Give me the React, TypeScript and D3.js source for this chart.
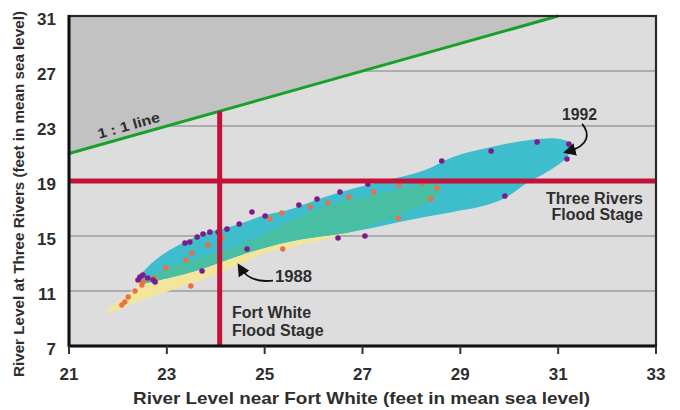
import React from "react";
import * as d3 from "d3";

// ---- Data ----
const xTicks = [21, 23, 25, 27, 29, 31, 33];
const yTicks = [7, 11, 15, 19, 23, 27, 31];
const gridValues = [11, 15, 23, 27];
const floodThreeRivers = 19;
const floodFortWhite = 24.08;

// 1992 envelope (x, y)
const env1992X = [22.41, 22.61, 22.96, 23.37, 23.78, 24.13, 24.6, 25.01, 25.48, 26.17, 26.85, 27.52, 28.28, 28.85, 29.54, 30.42, 31.04, 31.28, 31.18, 30.77, 30.36, 29.95, 29.54, 28.85, 28.17, 27.66, 27.19, 26.54, 25.72, 24.95, 24.25, 23.58, 22.86, 22.51];
const env1992Y = [11.8, 12.75, 13.76, 14.56, 15.22, 15.51, 16.02, 16.53, 16.89, 17.76, 18.49, 19.07, 19.8, 20.75, 21.4, 21.98, 22.05, 21.62, 20.75, 19.65, 18.85, 17.84, 17.25, 16.75, 16.31, 15.95, 15.58, 15.15, 14.75, 14.1, 13.3, 12.45, 11.8, 11.58];

// 1988 envelope (x, y)
const env1988X = [21.74, 22.0, 22.35, 22.7, 23.23, 23.92, 24.45, 25.01, 25.48, 26.17, 26.85, 27.52, 28.07, 28.52, 28.6, 28.38, 27.97, 27.66, 27.19, 26.5, 25.72, 25.01, 24.6, 23.92, 23.23, 22.55, 21.94];
const env1988Y = [9.4, 10.2, 11.22, 12.16, 12.96, 13.69, 14.35, 15.15, 16.02, 17.04, 17.69, 18.2, 18.64, 18.78, 18.27, 17.55, 16.89, 16.38, 15.8, 15.0, 14.35, 13.76, 13.11, 12.09, 11.22, 10.42, 9.55];

// 1992 observations
const obs1992X = [24.74, 23.37, 23.47, 23.62, 23.74, 23.88, 24.05, 24.23, 24.48, 24.64, 23.72, 22.45, 22.51, 22.41, 22.61, 22.72, 22.76, 25.01, 25.7, 26.07, 26.54, 27.11, 26.5, 27.05, 28.62, 29.63, 30.57, 31.22, 31.18, 29.91];
const obs1992Y = [16.75, 14.49, 14.56, 14.93, 15.15, 15.29, 15.29, 15.51, 15.87, 14.05, 12.45, 12.02, 12.16, 11.8, 11.95, 11.8, 11.65, 16.45, 17.25, 17.69, 18.2, 18.78, 14.85, 15.0, 20.45, 21.18, 21.84, 21.69, 20.6, 17.91];

// 1988 observations
const obs1988X = [24.13, 23.84, 23.51, 23.39, 22.98, 22.74, 22.51, 22.49, 22.35, 22.21, 22.14, 22.08, 23.49, 25.11, 25.35, 25.93, 26.29, 26.72, 27.23, 27.75, 28.22, 27.73, 25.37, 28.52, 28.4];
const obs1988Y = [14.85, 14.35, 13.76, 13.25, 12.67, 11.95, 11.65, 11.44, 11.0, 10.56, 10.2, 9.98, 11.36, 16.24, 16.67, 17.11, 17.4, 17.84, 18.2, 18.71, 18.85, 16.31, 14.05, 18.49, 17.69];

const W = 680;
const H = 410;
const FONT = "'Liberation Sans', Arial, Helvetica, sans-serif";
const TXT = "#2e2e2e";

export default function App() {
  const x = d3.scaleLinear().domain([21, 33]).range([69, 656]);
  const y = d3.scaleLinear().domain([7, 31]).range([346, 16]);

  const poly = (xs: number[], ys: number[]) =>
    d3.line<number>().x((_, i) => x(xs[i])).y((_, i) => y(ys[i])).curve(d3.curveCatmullRomClosed.alpha(0.5))(xs);

  const p1992 = poly(env1992X, env1992Y) || "";
  const p1988 = poly(env1988X, env1988Y) || "";

  const grayTri = `M${x(21)},${y(21)} L${x(31)},${y(31)} L${x(21)},${y(31)} Z`;

  const arrow1992 = d3.path();
  arrow1992.moveTo(x(31.49), y(23.15));
  arrow1992.bezierCurveTo(x(31.64), y(22.5), x(31.66), y(21.6), x(31.2), y(21.15));

  const arrow1988 = d3.path();
  arrow1988.moveTo(x(25.17), y(11.76));
  arrow1988.bezierCurveTo(x(24.85), y(11.62), x(24.62), y(12.0), x(24.5), y(12.7));

  const slopeAngle = (Math.atan2(y(31) - y(21), x(31) - x(21)) * 180) / Math.PI;

  return (
    <svg width={W} height={H} style={{ position: "absolute", left: 0, top: 0, background: "#fff" }}>
      <defs>
        <clipPath id="plotClip">
          <rect x={x(21)} y={y(31)} width={x(33) - x(21)} height={y(7) - y(31)} />
        </clipPath>
        <clipPath id="clip1992">
          <path d={p1992} />
        </clipPath>
        <marker id="arrowHead" viewBox="0 0 10 10" refX="6" refY="5" markerWidth="7" markerHeight="7" orient="auto">
          <path d="M0,0 L10,5 L0,10 Z" fill="#111" />
        </marker>
      </defs>

      {/* plot background */}
      <rect x={x(21)} y={y(31)} width={x(33) - x(21)} height={y(7) - y(31)} fill="#dddddd" />

      {/* gridlines */}
      {gridValues.map((g) => (
        <line key={g} x1={x(21)} x2={x(33)} y1={y(g)} y2={y(g)} stroke="#9d9d9d" strokeWidth={1.6} />
      ))}

      {/* area above 1:1 */}
      <path d={grayTri} fill="#c2c2c2" clipPath="url(#plotClip)" />

      {/* envelopes */}
      <path d={p1988} fill="#f2e59c" />
      <path d={p1992} fill="#3ebdcc" />
      <path d={p1988} fill="#48bfa2" clipPath="url(#clip1992)" />

      {/* observations */}
      {obs1988X.map((v, i) => (
        <circle key={"o" + i} cx={x(v)} cy={y(obs1988Y[i])} r={2.7} fill="#ea7048" />
      ))}
      {obs1992X.map((v, i) => (
        <circle key={"p" + i} cx={x(v)} cy={y(obs1992Y[i])} r={2.8} fill="#7d1b8e" />
      ))}

      {/* 1:1 line */}
      <line x1={x(21)} y1={y(21)} x2={x(31)} y2={y(31)} stroke="#17a02a" strokeWidth={3} />

      {/* flood stage lines */}
      <line x1={x(21)} x2={x(33)} y1={y(floodThreeRivers)} y2={y(floodThreeRivers)} stroke="#c2123a" strokeWidth={5} />
      <line x1={x(floodFortWhite)} x2={x(floodFortWhite)} y1={y(7)} y2={y(floodFortWhite)} stroke="#c2123a" strokeWidth={5} />

      {/* frame */}
      <rect x={x(21)} y={y(31)} width={x(33) - x(21)} height={y(7) - y(31)} fill="none" stroke="#2a2a2a" strokeWidth={2.2} />
      <line x1={x(21)} x2={x(21)} y1={y(31) - 1} y2={y(7) + 1} stroke="#111" strokeWidth={3} />
      <line x1={x(21) - 1} x2={x(33) + 1} y1={y(7)} y2={y(7)} stroke="#111" strokeWidth={3} />

      {/* x ticks */}
      {xTicks.map((t) => (
        <g key={"xt" + t}>
          <line x1={x(t)} x2={x(t)} y1={y(7)} y2={y(7) + 8} stroke="#333" strokeWidth={2} />
          <text x={x(t)} y={380} textAnchor="middle" fontFamily={FONT} fontWeight="bold" fontSize={17} fill={TXT}>
            {t}
          </text>
        </g>
      ))}

      {/* y ticks */}
      {yTicks.map((t) => (
        <text key={"yt" + t} x={56} y={y(t) + 9} textAnchor="end" fontFamily={FONT} fontWeight="bold" fontSize={17} fill={TXT}>
          {t}
        </text>
      ))}

      {/* axis titles */}
      <text x={361.5} y={404} textAnchor="middle" fontFamily={FONT} fontWeight="bold" fontSize={16.5} fill={TXT} textLength={457} lengthAdjust="spacingAndGlyphs">
        River Level near Fort White (feet in mean sea level)
      </text>
      <text transform={`translate(24,194) rotate(-90)`} textAnchor="middle" fontFamily={FONT} fontWeight="bold" fontSize={14} fill={TXT} textLength={366} lengthAdjust="spacingAndGlyphs">
        River Level at Three Rivers (feet in mean sea level)
      </text>

      {/* annotations */}
      <text transform={`translate(${x(22.28)},${y(22.28)}) rotate(${slopeAngle})`} dy={-6} textAnchor="middle" fontFamily={FONT} fontWeight="bold" fontSize={14} fill={TXT} textLength={64} lengthAdjust="spacingAndGlyphs">
        1 : 1 line
      </text>

      <text x={579.5} y={120} textAnchor="middle" fontFamily={FONT} fontWeight="bold" fontSize={16} fill={TXT} textLength={35} lengthAdjust="spacingAndGlyphs">
        1992
      </text>
      <path d={arrow1992.toString()} fill="none" stroke="#111" strokeWidth={1.8} markerEnd="url(#arrowHead)" />

      <text x={275} y={282} textAnchor="start" fontFamily={FONT} fontWeight="bold" fontSize={16} fill={TXT} textLength={37} lengthAdjust="spacingAndGlyphs">
        1988
      </text>
      <path d={arrow1988.toString()} fill="none" stroke="#111" strokeWidth={1.8} markerEnd="url(#arrowHead)" />

      <text x={643} y={204} textAnchor="end" fontFamily={FONT} fontWeight="bold" fontSize={16} fill={TXT}>
        Three Rivers
      </text>
      <text x={643} y={220} textAnchor="end" fontFamily={FONT} fontWeight="bold" fontSize={16} fill={TXT}>
        Flood Stage
      </text>

      <text x={232} y={318} textAnchor="start" fontFamily={FONT} fontWeight="bold" fontSize={16} fill={TXT}>
        Fort White
      </text>
      <text x={232} y={335.5} textAnchor="start" fontFamily={FONT} fontWeight="bold" fontSize={16} fill={TXT}>
        Flood Stage
      </text>
    </svg>
  );
}
